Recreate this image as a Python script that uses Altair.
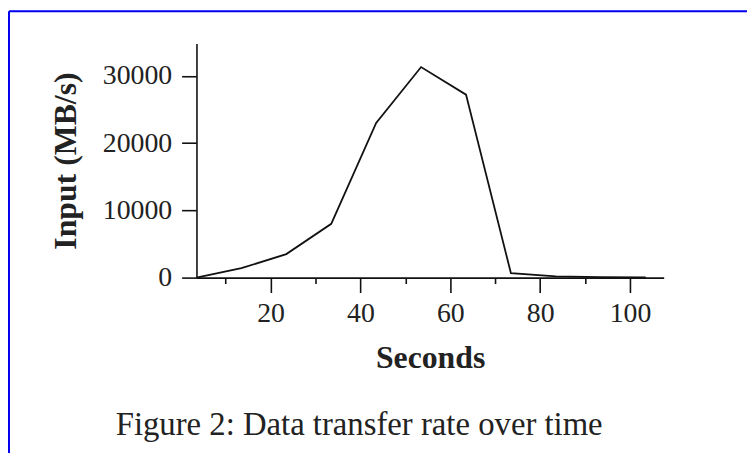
import altair as alt
import pandas as pd

# Data
seconds = [3.5, 13.5, 23.5, 33.5, 43.5, 53.5, 63.5, 73.5, 83.5, 93.5, 103.5]
input_mbs = [0, 1400, 3500, 8000, 23000, 31300, 27200, 650, 200, 60, 20]
x_ticks = [10, 20, 30, 40, 50, 60, 70, 80, 90, 100]
y_ticks = [0, 10000, 20000, 30000]
caption = ["Figure 2: Data transfer rate over time"]

df = pd.DataFrame({"Seconds": seconds, "Input": input_mbs})

FONT = "Liberation Serif"

line = alt.Chart(df).mark_line(color="#111111", strokeWidth=1.8).encode(
    x=alt.X(
        "Seconds:Q",
        scale=alt.Scale(domain=[3.5, 107.5], nice=False, zero=False),
        axis=alt.Axis(
            values=x_ticks,
            title="Seconds",
            labelExpr="datum.value % 20 == 0 ? datum.label : ''",
            tickSize={"condition": {"test": "datum.value % 20 == 0", "value": 15}, "value": 6},
            labelPadding=7,
            titleBaseline="alphabetic",
            titleY=90.5,
            titleX=235.5,
            titleAlign="center",
        ),
    ),
    y=alt.Y(
        "Input:Q",
        scale=alt.Scale(domain=[0, 34800], nice=False),
        axis=alt.Axis(
            values=y_ticks,
            format="d",
            title="Input (MB/s)",
            tickSize=15,
            labelPadding=10,
            titleAngle=-90,
            titleBaseline="alphabetic",
            titleAlign="center",
            titleX=-122,
            titleY=118,
        ),
    ),
)

frame_src = pd.DataFrame({"k": [0]})
frame_top = alt.Chart(frame_src).mark_rule(color="#0000ee", strokeWidth=2).encode(
    x=alt.value(-189), x2=alt.value(700), y=alt.value(-32.5)
)
frame_left = alt.Chart(frame_src).mark_rule(color="#0000ee", strokeWidth=2).encode(
    x=alt.value(-189), y=alt.value(-32.5), y2=alt.value(500)
)

caption_text = alt.Chart(pd.DataFrame({"caption": caption})).mark_text(
    font=FONT, fontSize=33, color="#222222", align="center", baseline="alphabetic"
).encode(
    text="caption:N", x=alt.value(164), y=alt.value(394.5)
)

chart = (
    alt.layer(line, frame_top, frame_left, caption_text)
    .properties(
        width=471,
        height=236,
        background="white",
        autosize=alt.AutoSizeParams(type="none"),
        padding={"left": 190, "top": 34, "right": 84, "bottom": 175},
    )
    .configure_view(stroke=None)
    .configure_axis(
        grid=False,
        domainColor="#111111",
        domainWidth=1.6,
        tickColor="#111111",
        tickWidth=1.6,
        labelFont=FONT,
        labelFontSize=28,
        labelColor="#222222",
        titleFont=FONT,
        titleFontSize=32,
        titleFontWeight="bold",
        titleColor="#222222",
    )
)

chart.save("out.html", embed_options={"renderer": "svg", "actions": False})
